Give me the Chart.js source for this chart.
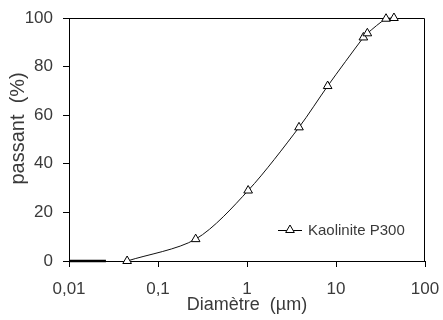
<!DOCTYPE html>
<html><head><meta charset="utf-8">
<script src="https://cdn.jsdelivr.net/npm/chart.js@4.4.0/dist/chart.umd.min.js"></script>
<style>html,body{margin:0;padding:0;background:#fff}#wrap{width:443px;height:320px}</style>
</head><body><div id="wrap"><canvas id="c" width="443" height="320"></canvas></div>
<script>
const seriesName = 'Kaolinite P300';
const diameters = [0.045, 0.265, 1.03, 3.84, 8.06, 20.3, 22.5, 36.5, 44.8];
const passing = [0, 9, 29, 55, 72, 92, 93.7, 99.7, 100];
const baseDiameters = [0.01, 0.026];
const basePassing = [0, 0];
const xTickValues = [0.01, 0.1, 1, 10, 100];
const xTickLabels = ['0,01', '0,1', '1', '10', '100'];
const yTickValues = [0, 20, 40, 60, 80, 100];
const yTickLabels = ['0', '20', '40', '60', '80', '100'];
const xTitle = 'Diamètre  (µm)';
const yTitle = '    passant  (%)';

const FONT = "'Liberation Sans', Arial, sans-serif";
const TXT = '#3a3a3a';

const boxPlugin = {
  id: 'box',
  beforeDatasetsDraw(chart) {
    const {ctx, chartArea: a} = chart;
    ctx.save();
    ctx.strokeStyle = '#000';
    ctx.lineWidth = 1;
    ctx.beginPath();
    const t = Math.round(a.top) + 0.5, r = Math.round(a.right) - 0.5;
    ctx.moveTo(a.left, t);
    ctx.lineTo(r, t);
    ctx.lineTo(r, a.bottom);
    ctx.stroke();
    ctx.restore();
  }
};

const legendPlugin = {
  id: 'innerLegend',
  afterDatasetsDraw(chart) {
    const {ctx, chartArea: a} = chart;
    const y = a.bottom - 31;
    const x0 = a.right - 147;
    ctx.save();
    ctx.strokeStyle = '#000';
    ctx.lineWidth = 1;
    ctx.beginPath();
    ctx.moveTo(x0, y + 0.5);
    ctx.lineTo(x0 + 24, y + 0.5);
    ctx.stroke();
    ctx.fillStyle = '#fff';
    Chart.helpers.drawPoint(ctx, {pointStyle: 'triangle', radius: 5, borderWidth: 1, rotation: 0}, x0 + 12, y);
    ctx.fillStyle = TXT;
    ctx.font = '15px ' + FONT;
    ctx.textBaseline = 'middle';
    ctx.textAlign = 'left';
    ctx.fillText(chart.data.datasets[1].label, x0 + 30, y + 1);
    ctx.restore();
  }
};

function noPad(s) {
  s.paddingLeft = 0; s.paddingRight = 0; s.paddingTop = 0; s.paddingBottom = 0;
}

new Chart(document.getElementById('c'), {
  type: 'line',
  data: {
    datasets: [
      {
        label: 'base',
        data: baseDiameters.map((x, i) => ({x, y: basePassing[i]})),
        borderColor: '#000',
        borderWidth: 2.5,
        pointRadius: 0,
        clip: false,
        tension: 0
      },
      {
        label: seriesName,
        data: diameters.map((x, i) => ({x, y: passing[i]})),
        borderColor: '#111',
        borderWidth: 1,
        tension: 0.3,
        pointStyle: 'triangle',
        pointRadius: 5,
        pointBorderWidth: 1,
        pointBackgroundColor: '#fff',
        pointBorderColor: '#000',
        clip: false
      }
    ]
  },
  options: {
    responsive: false,
    animation: false,
    devicePixelRatio: 1,
    layout: {padding: {top: 18, right: 18, left: 0, bottom: 0}},
    plugins: {legend: {display: false}, tooltip: {enabled: false}},
    scales: {
      x: {
        type: 'logarithmic',
        min: 0.01,
        max: 100,
        afterFit(s) { s.height = 59; noPad(s); },
        afterBuildTicks(s) { s.ticks = xTickValues.map(v => ({value: v})); },
        grid: {display: true, drawOnChartArea: false, drawTicks: true, tickLength: 6, color: '#000'},
        border: {display: true, color: '#000', width: 1},
        ticks: {
          autoSkip: false, maxRotation: 0, padding: 12,
          color: TXT, font: {family: FONT, size: 17},
          callback: (v, i) => xTickLabels[i]
        },
        title: {display: true, text: xTitle, color: TXT, font: {family: FONT, size: 18}, padding: {top: 0, bottom: 4}}
      },
      y: {
        min: 0,
        max: 100,
        afterFit(s) { s.width = 69; noPad(s); },
        afterBuildTicks(s) { s.ticks = yTickValues.map(v => ({value: v})); },
        grid: {display: true, drawOnChartArea: false, drawTicks: true, tickLength: 6, color: '#000'},
        border: {display: true, color: '#000', width: 1},
        ticks: {
          padding: 10, color: TXT, font: {family: FONT, size: 17},
          callback: (v, i) => yTickLabels[i]
        },
        title: {display: true, text: yTitle, color: TXT, font: {family: FONT, size: 20}, padding: {top: 6, bottom: 0}}
      }
    }
  },
  plugins: [boxPlugin, legendPlugin]
});
</script>
</body></html>
